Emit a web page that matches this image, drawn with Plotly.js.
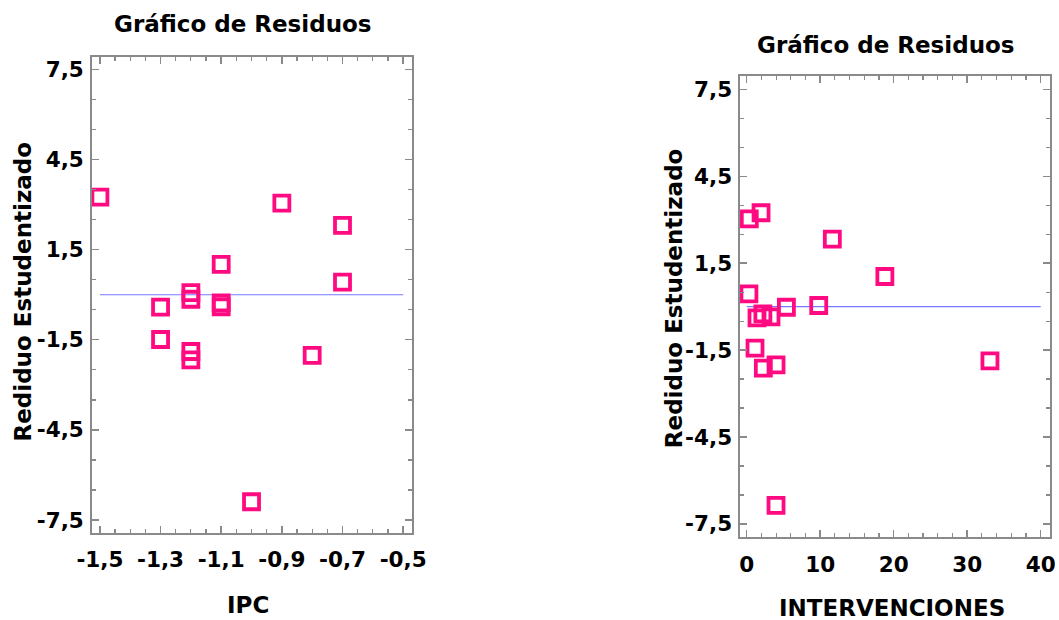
<!DOCTYPE html>
<html>
<head>
<meta charset="utf-8">
<script src="https://cdn.plot.ly/plotly-3.0.1.min.js"></script>
<style>
  html, body { margin: 0; padding: 0; background: #ffffff; }
  #chart { width: 1059px; height: 620px; }
</style>
</head>
<body>
<div id="chart"></div>
<script>
// Studentized residuals against IPC
const ipcX = [-1.5, -0.9, -0.7, -1.1, -0.7, -1.2, -1.2, -1.3, -1.1, -1.1, -1.3, -1.2, -1.2, -0.8, -1.0];
const ipcRes = [3.25, 3.05, 2.31, 1.01, 0.42, 0.07, -0.15, -0.41, -0.27, -0.40, -1.49, -1.89, -2.17, -2.02, -6.89];
const ipcLineX = [-1.5, -0.5];
const ipcLineY = [0, 0];

// Studentized residuals against INTERVENCIONES
const intX = [0.35, 1.95, 11.65, 18.8, 0.3, 9.8, 5.4, 1.4, 2.2, 3.3, 1.13, 2.26, 3.99, 33.1, 3.99];
const intRes = [3.03, 3.24, 2.33, 1.04, 0.44, 0.04, -0.02, -0.39, -0.25, -0.35, -1.43, -2.12, -2.01, -1.87, -6.86];
const intLineX = [0, 40];
const intLineY = [0, 0];

// Tick positions and their labels (comma decimals, plain hyphen minus)
const resTicks = [-7.5, -4.5, -1.5, 1.5, 4.5, 7.5];
const resTickText = ['-7,5', '-4,5', '-1,5', '1,5', '4,5', '7,5'];
const ipcTicks = [-1.5, -1.3, -1.1, -0.9, -0.7, -0.5];
const ipcTickText = ['-1,5', '-1,3', '-1,1', '-0,9', '-0,7', '-0,5'];
const intTicks = [0, 10, 20, 30, 40];
const intTickText = ['0', '10', '20', '30', '40'];

const plotTitle = 'Gráfico de Residuos';
const yTitle = 'Rediduo Estudentizado';
const xTitleLeft = 'IPC';
const xTitleRight = 'INTERVENCIONES';

const pink = '#ff0a80';
const lineBlue = '#7777ff';
const frame = '#8a8a8a';
const fontFam = 'DejaVu Sans, Arial, sans-serif';

const markerStyle = {
  symbol: 'square-open',
  size: 15,
  color: pink,
  line: { color: pink, width: 3.8 }
};

const traces = [
  { x: ipcLineX, y: ipcLineY, xaxis: 'x', yaxis: 'y', mode: 'lines',
    line: { color: lineBlue, width: 1.2 }, hoverinfo: 'skip' },
  { x: ipcX, y: ipcRes, xaxis: 'x', yaxis: 'y', mode: 'markers', marker: markerStyle },
  { x: intLineX, y: intLineY, xaxis: 'x2', yaxis: 'y2', mode: 'lines',
    line: { color: lineBlue, width: 1.2 }, hoverinfo: 'skip' },
  { x: intX, y: intRes, xaxis: 'x2', yaxis: 'y2', mode: 'markers', marker: markerStyle }
];

const tickFont = { family: fontFam, size: 21.5, color: '#000000', weight: 'bold' };
const labelFont = { family: fontFam, size: 23, color: '#000000', weight: 'bold' };

function axisBase(extra) {
  return Object.assign({
    showline: true, linecolor: frame, linewidth: 1.6, mirror: 'allticks',
    ticks: 'inside', ticklen: 7, tickwidth: 1.4, tickcolor: frame,
    showgrid: false, zeroline: false, tickfont: tickFont, tickmode: 'array',
    fixedrange: true
  }, extra);
}

const layout = {
  width: 1059, height: 620,
  margin: { l: 0, r: 0, t: 0, b: 0 },
  paper_bgcolor: '#ffffff', plot_bgcolor: '#ffffff',
  showlegend: false,
  xaxis: axisBase({
    domain: [0.0866, 0.3890], range: [-1.527, -0.471], anchor: 'y',
    tickvals: ipcTicks, ticktext: ipcTickText, ticklabelstandoff: 6,
    minor: { dtick: 0.05, tick0: -1.5, ticks: 'inside', ticklen: 4, tickcolor: frame, tickwidth: 1.2 }
  }),
  yaxis: axisBase({
    domain: [0.1398, 0.9085], range: [-7.94, 7.92], anchor: 'x',
    tickvals: resTicks, ticktext: resTickText, ticklabelstandoff: 2,
    minor: { dtick: 1, tick0: -7.5, ticks: 'inside', ticklen: 4, tickcolor: frame, tickwidth: 1.2 }
  }),
  xaxis2: axisBase({
    domain: [0.6988, 0.9915], range: [-0.91, 41.27], anchor: 'y2',
    tickvals: intTicks, ticktext: intTickText, ticklabelstandoff: 7,
    minor: { dtick: 2, tick0: 0, ticks: 'inside', ticklen: 4, tickcolor: frame, tickwidth: 1.2 }
  }),
  yaxis2: axisBase({
    domain: [0.1334, 0.8774], range: [-7.96, 7.96], anchor: 'x2',
    tickvals: resTicks, ticktext: resTickText, ticklabelstandoff: 2,
    minor: { dtick: 1, tick0: -7.5, ticks: 'inside', ticklen: 4, tickcolor: frame, tickwidth: 1.2 }
  }),
  annotations: [
    { text: plotTitle, xref: 'paper', yref: 'paper', x: 0.229, y: 0.962,
      xanchor: 'center', yanchor: 'middle', showarrow: false, font: labelFont },
    { text: plotTitle, xref: 'paper', yref: 'paper', x: 0.8366, y: 0.9274,
      xanchor: 'center', yanchor: 'middle', showarrow: false, font: labelFont },
    { text: xTitleLeft, xref: 'paper', yref: 'paper', x: 0.2345, y: 0.0242,
      xanchor: 'center', yanchor: 'middle', showarrow: false, font: labelFont },
    { text: xTitleRight, xref: 'paper', yref: 'paper', x: 0.842, y: 0.0194,
      xanchor: 'center', yanchor: 'middle', showarrow: false, font: labelFont },
    { text: yTitle, xref: 'paper', yref: 'paper', x: 0.0217, y: 0.5298,
      xanchor: 'center', yanchor: 'middle', showarrow: false, textangle: -90, font: labelFont },
    { text: yTitle, xref: 'paper', yref: 'paper', x: 0.6364, y: 0.519,
      xanchor: 'center', yanchor: 'middle', showarrow: false, textangle: -90, font: labelFont }
  ]
};

Plotly.newPlot('chart', traces, layout, { displayModeBar: false, staticPlot: true });
</script>
</body>
</html>
